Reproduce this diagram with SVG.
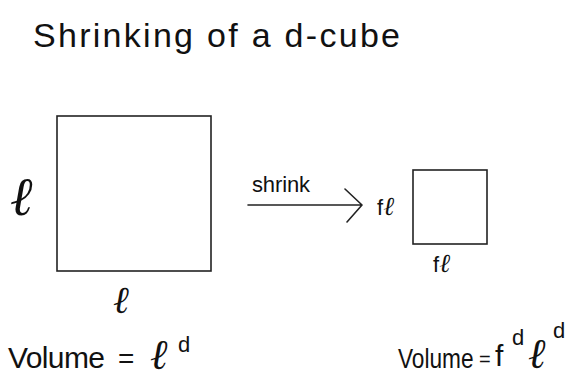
<svg xmlns="http://www.w3.org/2000/svg" width="576" height="381" viewBox="0 0 576 381">
<style>
text{font-family:"Liberation Sans","DejaVu Sans",sans-serif;fill:#111}
.ell{font-family:"Liberation Serif","DejaVu Serif",serif;font-style:italic}
.box{fill:#fff;stroke:#222;stroke-width:1.6}
.con{fill:none;stroke:#222;stroke-width:1.6;stroke-linecap:round;stroke-linejoin:round}
</style>
<rect width="576" height="381" fill="#fff"/>
<text id="title" x="33" y="47" font-size="34" textLength="367" lengthAdjust="spacing">Shrinking of a d-cube</text>
<g id="bigCube">
<rect class="box" x="57" y="116" width="154" height="155"/>
<text class="ell" x="10" y="215" font-size="54">ℓ</text>
<text class="ell" x="113" y="313" font-size="38">ℓ</text>
</g>
<g id="connectors">
<path class="con" d="M248 205 H362 M345 189 L362 205 L347 222"/>
<text x="252" y="192" font-size="22" textLength="58" lengthAdjust="spacing">shrink</text>
</g>
<g id="smallCube">
<rect class="box" x="413" y="170" width="74" height="74"/>
<text x="377" y="215" font-size="22">f<tspan class="ell" font-size="26">ℓ</tspan></text>
<text x="433" y="272" font-size="22">f<tspan class="ell" font-size="26">ℓ</tspan></text>
</g>
<g id="volumeLeft">
<text x="8" y="368" font-size="30" textLength="97" lengthAdjust="spacing">Volume</text>
<text x="118" y="368" font-size="28">=</text>
<text class="ell" x="150" y="369" font-size="42">ℓ</text>
<text x="178" y="352" font-size="22">d</text>
</g>
<g id="volumeRight">
<text transform="translate(398 368) scale(0.81 1)" font-size="28">Volume</text>
<text x="479" y="366" font-size="20">=</text>
<text x="495" y="366" font-size="30">f</text>
<text x="512" y="345" font-size="22">d</text>
<text class="ell" x="528" y="368" font-size="42">ℓ</text>
<text x="553" y="338" font-size="22">d</text>
</g>
</svg>
